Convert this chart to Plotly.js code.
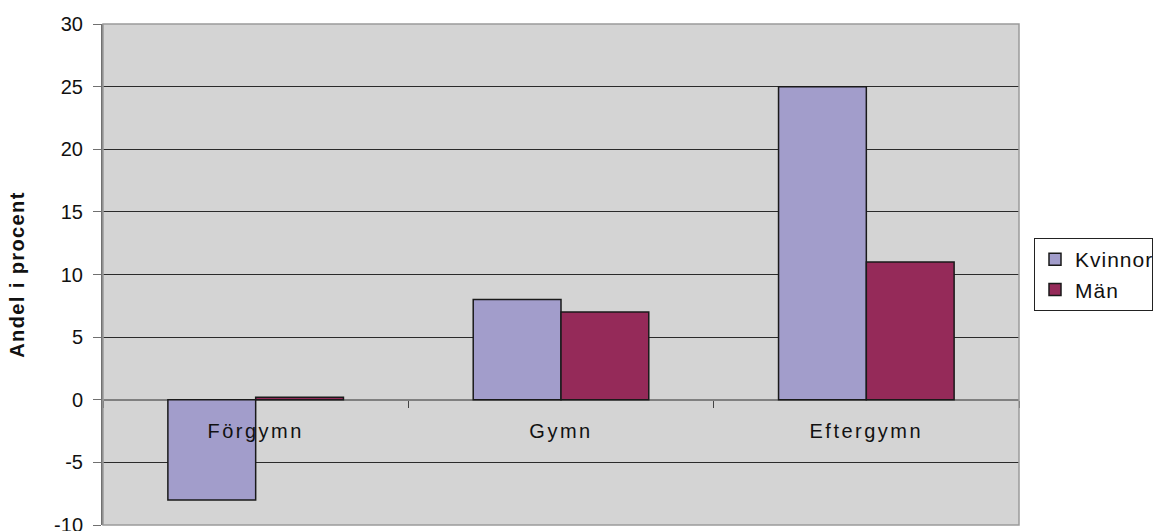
<!DOCTYPE html>
<html>
<head>
<meta charset="utf-8">
<script src="https://cdn.plot.ly/plotly-3.0.1.min.js"></script>
<style>
  html, body { margin: 0; padding: 0; background: #ffffff; }
  #chart { width: 1158px; height: 531px; }
  /* slightly wider letter spacing for category labels, legend and axis title */
  #chart .xtick text { letter-spacing: 2.5px; }
  #chart .legendtext { letter-spacing: 1px; }
  #chart .ytitle { letter-spacing: 1.4px; }
</style>
</head>
<body>
<div id="chart"></div>
<script>
// Education level categories and share (%) per group
const categories = ['Förgymn', 'Gymn', 'Eftergymn'];
const kvinnor = [-8, 8, 25];
const man = [0.2, 7, 11];
const yTicks = [-10, -5, 0, 5, 10, 15, 20, 25, 30];
const yTickText = ['-10', '-5', '0', '5', '10', '15', '20', '25', '30'];

const FONT = 'Liberation Sans, Arial, sans-serif';
const barLine = { color: '#1a1a1a', width: 1.5 };

const traces = [
  {
    type: 'bar', name: 'Kvinnor', x: categories, y: kvinnor,
    marker: { color: '#A29DCB', line: barLine }
  },
  {
    type: 'bar', name: 'Män', x: categories, y: man,
    marker: { color: '#952A59', line: barLine }
  }
];

const layout = {
  width: 1158, height: 531,
  margin: { l: 103, r: 139, t: 24, b: 6 },
  paper_bgcolor: '#ffffff',
  plot_bgcolor: '#D4D4D4',
  font: { family: FONT, size: 20, color: '#111111' },
  barmode: 'group',
  bargap: 0.425,
  bargroupgap: 0,
  showlegend: true,
  legend: {
    xref: 'container', yref: 'container',
    x: 1034 / 1158, xanchor: 'left', y: 1 - 238 / 531, yanchor: 'top',
    bgcolor: '#ffffff', bordercolor: '#222222', borderwidth: 1,
    font: { family: FONT, size: 21, color: '#111111' }
  },
  xaxis: {
    type: 'category',
    anchor: 'free', position: 0.25,
    showline: false, showgrid: false, zeroline: false,
    ticks: 'outside', tickson: 'boundaries', ticklen: 7,
    tickcolor: '#444444', tickwidth: 1,
    ticklabelstandoff: 17,
    tickfont: { family: FONT, size: 20, color: '#111111' }
  },
  yaxis: {
    range: [-10, 30], tickvals: yTicks, ticktext: yTickText,
    ticklabeloverflow: 'allow',
    showgrid: true, gridcolor: '#2a2a2a', gridwidth: 1,
    zeroline: true, zerolinecolor: '#808080', zerolinewidth: 2,
    showline: true, linecolor: '#707070', linewidth: 2,
    ticks: 'outside', ticklen: 8, tickcolor: '#707070', tickwidth: 1,
    ticklabelstandoff: 6,
    tickfont: { family: FONT, size: 20, color: '#111111' },
    title: {
      text: 'Andel i procent', standoff: 24,
      font: { family: FONT, size: 20, color: '#111111', weight: 'bold' }
    }
  },
  shapes: [
    {
      type: 'rect', xref: 'paper', yref: 'paper', x0: 0, x1: 1, y0: 0, y1: 1,
      line: { color: '#9a9a9a', width: 1.5 }, layer: 'above'
    }
  ]
};

Plotly.newPlot('chart', traces, layout, { displayModeBar: false, staticPlot: true });
</script>
</body>
</html>
